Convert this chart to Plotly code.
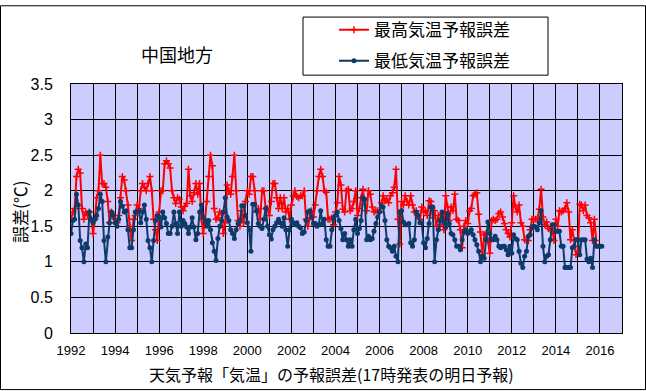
import pandas as pd
import plotly.graph_objects as go

# Monthly forecast errors (deg C), Jan 1992 onward
max_err = [
    1.6, 1.7, 1.75, 2.2, 2.3, 2.25, 1.75, 1.6, 1.7, 1.65, 1.7, 1.6,      # 1992
    1.4, 1.6, 1.9, 2.0, 2.5, 2.1, 2.1, 2.05, 1.85, 1.55, 1.7, 1.65,      # 1993
    1.6, 1.55, 1.65, 1.9, 2.2, 2.15, 2.0, 1.8, 1.5, 1.3, 1.6, 1.65,      # 1994
    1.8, 1.75, 2.0, 2.1, 2.05, 2.0, 2.1, 2.2, 2.0, 1.6, 1.45, 1.3,       # 1995
    1.7, 2.0, 2.0, 2.38, 2.42, 2.38, 2.32, 2.0, 1.9, 1.82, 1.9, 1.88,    # 1996
    1.77, 1.72, 1.78, 1.82, 2.3, 1.93, 1.85, 1.97, 2.1, 1.95, 2.1, 1.6,  # 1997
    1.4, 1.6, 1.85, 2.2, 2.5, 2.35, 1.75, 1.6, 1.62, 1.7, 1.68, 1.4,     # 1998
    1.55, 2.08, 2.0, 1.95, 2.2, 2.5, 2.0, 1.58, 1.5, 1.72, 1.55, 1.85,   # 1999
    2.0, 1.95, 2.2, 2.2, 2.0, 1.7, 1.75, 1.6, 2.0, 2.0, 1.75, 1.75,      # 2000
    1.65, 1.85, 2.1, 2.1, 1.9, 1.75, 1.9, 1.75, 1.9, 1.7, 1.75, 1.6,     # 2001
    1.8, 1.93, 2.0, 1.92, 1.9, 1.93, 1.93, 2.0, 1.6, 1.5, 1.62, 1.72,    # 2002
    1.63, 1.8, 2.0, 2.2, 2.3, 2.2, 2.0, 1.98, 1.6, 1.6, 1.62, 1.52,      # 2003
    1.7, 1.83, 2.2, 2.08, 1.74, 1.7, 2.0, 2.02, 1.72, 1.75, 1.85, 2.0,   # 2004
    1.65, 1.75, 1.9, 2.02, 1.8, 1.72, 2.0, 1.95, 1.77, 1.7, 1.72, 1.72,  # 2005
    1.7, 1.83, 1.93, 1.86, 1.88, 1.83, 1.93, 1.97, 2.05, 2.3, 1.6, 1.25, # 2006
    1.85, 1.8, 1.93, 1.85, 1.8, 1.93, 1.8, 1.7, 1.72, 1.65, 1.6, 1.77,   # 2007
    1.7, 1.72, 1.65, 1.86, 1.85, 1.62, 1.72, 1.5, 1.65, 1.52, 1.67, 1.45,# 2008
    1.93, 1.77, 1.58, 1.77, 1.72, 1.95, 1.6, 1.58, 1.45, 1.2, 1.5, 1.58, # 2009
    1.54, 1.72, 1.75, 1.93, 1.95, 1.97, 1.67, 1.42, 1.1, 1.38, 1.4, 1.3, # 2010
    1.12, 1.58, 1.6, 1.58, 1.6, 1.68, 1.7, 1.63, 1.54, 1.45, 1.4, 1.35,  # 2011
    1.55, 1.93, 1.77, 1.7, 1.8, 1.55, 1.5, 1.31, 1.3, 1.3, 1.45, 1.6,    # 2012
    1.6, 1.6, 1.6, 1.74, 2.02, 1.63, 1.52, 1.56, 1.47, 1.45, 1.47, 1.3,  # 2013
    1.6, 1.5, 1.72, 1.7, 1.72, 1.75, 1.83, 1.7, 1.31, 1.45, 1.3, 1.1,    # 2014
    1.15, 1.81, 1.8, 1.72, 1.8, 1.65, 1.62, 1.55, 1.3, 1.6, 1.3,         # 2015
]

min_err = [
    1.4, 1.58, 1.6, 1.95, 1.8, 1.3, 1.2, 1.0, 1.25, 1.2, 1.7, 1.6,       # 1992
    1.55, 1.6, 1.65, 1.75, 1.95, 1.85, 1.3, 1.0, 1.35, 1.55, 1.7, 1.65,  # 1993
    1.55, 1.5, 1.6, 1.85, 1.78, 1.7, 1.72, 1.45, 1.2, 1.2, 1.45, 1.7,    # 1994
    1.7, 1.72, 1.55, 1.7, 1.8, 1.6, 1.3, 1.2, 1.0, 1.3, 1.58, 1.65,      # 1995
    1.63, 1.49, 1.7, 1.62, 1.54, 1.4, 1.4, 1.5, 1.7, 1.54, 1.4, 1.7,     # 1996
    1.5, 1.58, 1.54, 1.49, 1.4, 1.49, 1.62, 1.49, 1.31, 1.4, 1.7, 1.8,   # 1997
    1.63, 1.58, 1.5, 1.58, 1.45, 1.27, 1.15, 1.02, 1.33, 1.5, 1.58, 1.7, # 1998
    1.9, 1.63, 1.58, 1.45, 1.4, 1.33, 1.45, 1.54, 1.58, 1.79, 1.79, 1.65,# 1999
    1.55, 1.45, 1.15, 1.81, 1.81, 1.72, 1.54, 1.5, 1.47, 1.6, 1.75, 1.5, # 2000
    1.38, 1.32, 1.45, 1.5, 1.55, 1.6, 1.55, 1.5, 1.62, 1.45, 1.22, 1.45, # 2001
    1.6, 1.55, 1.52, 1.55, 1.5, 1.48, 1.4, 1.42, 1.58, 1.7, 1.72, 1.63,  # 2002
    1.54, 1.54, 1.5, 1.52, 1.72, 1.54, 1.6, 1.31, 1.22, 1.22, 1.45, 1.62,# 2003
    1.65, 1.7, 1.58, 1.47, 1.31, 1.4, 1.31, 1.22, 1.31, 1.22, 1.45, 1.6, # 2004
    1.4, 1.47, 1.58, 1.9, 1.88, 1.31, 1.36, 1.31, 1.33, 1.43, 1.54, 1.63,# 2005
    1.7, 1.79, 1.77, 1.58, 1.31, 1.22, 1.2, 1.15, 1.22, 1.08, 1.0, 1.7,  # 2006
    1.72, 1.56, 1.52, 1.52, 1.54, 1.27, 1.22, 1.31, 1.7, 1.65, 1.55, 1.55,# 2007
    1.27, 1.2, 1.33, 1.54, 1.77, 1.77, 1.0, 1.31, 1.45, 1.58, 1.7, 1.56, # 2008
    1.49, 1.68, 1.54, 1.4, 1.38, 1.31, 1.22, 1.22, 1.17, 1.31, 1.42, 1.45,# 2009
    1.4, 1.42, 1.45, 1.38, 1.31, 1.24, 1.15, 1.0, 1.08, 1.05, 1.31, 1.56,# 2010
    1.4, 1.31, 1.31, 1.36, 1.31, 1.22, 1.2, 1.22, 1.22, 1.17, 1.1, 1.22, # 2011
    1.12, 1.38, 1.33, 1.31, 1.15, 0.98, 0.92, 1.08, 1.15, 1.36, 1.38, 1.49,# 2012
    1.5, 1.49, 1.45, 1.55, 1.72, 1.22, 1.0, 1.08, 1.1, 1.31, 1.52, 1.52, # 2013
    1.43, 1.43, 1.43, 1.22, 1.22, 0.92, 0.92, 0.92, 0.92, 1.2, 1.22, 1.31,# 2014
    1.31, 1.1, 1.31, 1.31, 1.31, 1.04, 1.0, 1.05, 0.92, 1.31, 1.22, 1.22,# 2015
    1.22, 1.22,                                                          # 2016
]

start_month = "1992-01-01"
series_names = ["最高気温予報誤差", "最低気温予報誤差"]
year_ticks = list(range(1992, 2017, 2))

x_max = pd.date_range(start_month, periods=len(max_err), freq="MS")
x_min = pd.date_range(start_month, periods=len(min_err), freq="MS")

CJK = "Noto Sans CJK JP"
NUM = "Liberation Sans Narrow, Arial Narrow, Liberation Sans, Arial, sans-serif"

fig = go.Figure()
fig.add_trace(go.Scatter(
    x=x_max, y=max_err, mode="lines+markers", name=series_names[0],
    line=dict(color="#FF0000", width=2),
    marker=dict(symbol="cross-thin", size=5, color="#FF0000",
                line=dict(color="#FF0000", width=1.5)),
    legendgroup="a",
))
fig.add_trace(go.Scatter(
    x=x_min, y=min_err, mode="lines+markers", name=series_names[1],
    line=dict(color="#0F3A68", width=2),
    marker=dict(symbol="circle", size=5, color="#0F3A68"),
    legendgroup="b",
))

L, R, T, B = 71, 24, 80, 58
W, H = 646, 391
pw, ph = W - L - R, H - T - B

fig.update_layout(
    width=W, height=H,
    margin=dict(l=L, r=R, t=T, b=B),
    paper_bgcolor="white",
    plot_bgcolor="#CCCCFF",
    showlegend=True,
    legend=dict(
        x=(334 - L) / pw, y=1 + (T - 7) / ph, xanchor="left", yanchor="top",
        bgcolor="rgba(0,0,0,0)", borderwidth=0,
        font=dict(family=CJK, size=17, color="black"),
        tracegroupgap=6, itemwidth=30,
    ),
    xaxis=dict(
        type="date",
        range=["1992-01-01", "2017-01-01"],
        tickvals=[f"{y}-01-01" for y in year_ticks],
        ticktext=[str(y) for y in year_ticks],
        showgrid=True, gridcolor="black", gridwidth=1,
        minor=dict(dtick="M12", tick0="1992-01-01", showgrid=True,
                   gridcolor="black", gridwidth=1),
        showline=True, linecolor="black", linewidth=1, mirror=True,
        ticks="", ticklabelstandoff=5,
        tickfont=dict(family=NUM, size=13, color="black"),
        zeroline=False,
    ),
    yaxis=dict(
        range=[0, 3.5], dtick=0.5, tick0=0,
        showgrid=True, gridcolor="black", gridwidth=1,
        showline=True, linecolor="black", linewidth=1, mirror=True,
        ticks="", ticklabelstandoff=14,
        tickfont=dict(family=NUM, size=16, color="black"),
        zeroline=False,
    ),
    shapes=[
        # legend frame
        dict(type="rect", xref="paper", yref="paper",
             x0=(303 - L) / pw, x1=(548 - L) / pw,
             y0=1 + (T - 71) / ph, y1=1 + (T - 12) / ph,
             line=dict(color="black", width=1), fillcolor="rgba(0,0,0,0)",
             layer="below"),
        # outer chart frame
        dict(type="rect", xref="paper", yref="paper",
             x0=(0.5 - L) / pw, x1=(W - 0.5 - L) / pw,
             y0=-(B - 0.5) / ph, y1=1 + (T - 0.5) / ph,
             line=dict(color="black", width=1), fillcolor="rgba(0,0,0,0)"),
    ],
    annotations=[
        dict(text="中国地方", xref="paper", yref="paper",
             x=(177 - L) / pw, y=1 + (T - 50) / ph,
             xanchor="center", yanchor="middle", showarrow=False,
             font=dict(family=CJK, size=18, color="black")),
        dict(text="天気予報「気温」の予報誤差(17時発表の明日予報)",
             xref="paper", yref="paper",
             x=(331 - L) / pw, y=-(375 - (H - B)) / ph,
             xanchor="center", yanchor="middle", showarrow=False,
             font=dict(family=CJK, size=16, color="black")),
        dict(text="誤差(℃)", xref="paper", yref="paper",
             x=(20 - L) / pw, y=1 - (210 - T) / ph,
             xanchor="center", yanchor="middle", showarrow=False,
             textangle=-90,
             font=dict(family=CJK, size=17, color="black")),
    ],
)

fig.write_html(
    "out.html",
    config={"displayModeBar": False},
    post_script="document.body.style.margin='0';document.body.style.padding='0';",
)
